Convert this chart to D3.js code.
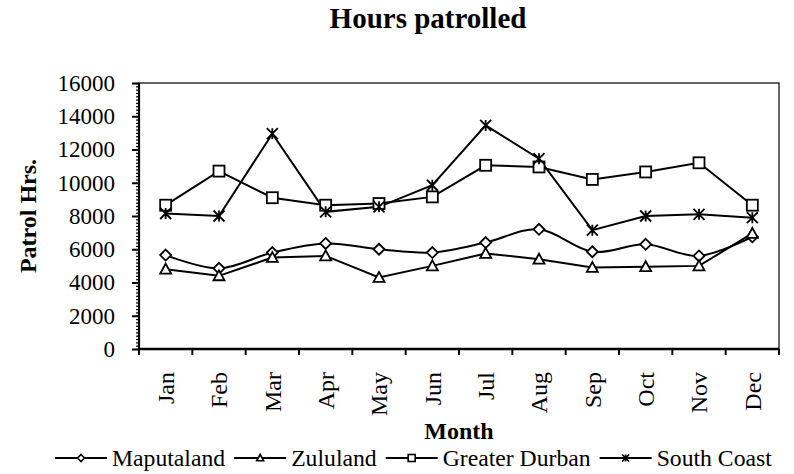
<!DOCTYPE html>
<html>
<head>
<meta charset="utf-8">
<script src="https://cdn.jsdelivr.net/npm/d3@7"></script>
<style>
  body { margin: 0; background: #fff; }
  text { font-family: 'Liberation Serif', 'Times New Roman', serif; fill: #000; }
</style>
</head>
<body>
<div class="canvas"></div>
<script>
const months = ['Jan', 'Feb', 'Mar', 'Apr', 'May', 'Jun', 'Jul', 'Aug', 'Sep', 'Oct', 'Nov', 'Dec'];
const maputaland = [5650, 4850, 5800, 6350, 6000, 5800, 6400, 7200, 5850, 6300, 5600, 6750];
const zululand = [4800, 4400, 5500, 5600, 4300, 5000, 5750, 5400, 4900, 4950, 5000, 6950];
const greaterDurban = [8650, 10700, 9100, 8650, 8750, 9150, 11050, 10950, 10200, 10650, 11200, 8650];
const southCoast = [8150, 8000, 12950, 8250, 8550, 9850, 13450, 11450, 7150, 8000, 8100, 7900];
const yTicks = [0, 2000, 4000, 6000, 8000, 10000, 12000, 14000, 16000];

const series = [
  { name: 'Maputaland', values: maputaland, marker: 'diamond', smooth: true },
  { name: 'Zululand', values: zululand, marker: 'triangle', smooth: false },
  { name: 'Greater Durban', values: greaterDurban, marker: 'square', smooth: false },
  { name: 'South Coast', values: southCoast, marker: 'star', smooth: false },
];

const width = 794;
const height = 474;
const margin = { top: 83, right: 15, bottom: 125, left: 139 };
const graphWidth = width - margin.left - margin.right;
const graphHeight = height - margin.top - margin.bottom;

const svg = d3
  .select('.canvas')
  .append('svg')
  .attr('width', width)
  .attr('height', height)
  .attr('font-family', "'Liberation Serif', serif");

const graph = svg
  .append('g')
  .attr('transform', `translate(${margin.left}, ${margin.top})`);

//scales
const x = d3.scaleBand().domain(months).range([0, graphWidth]).padding(0);
const y = d3.scaleLinear().domain([0, 16000]).range([graphHeight, 0]);
const cx = (i) => x(months[i]) + x.bandwidth() / 2;

//plot border (top and right)
graph
  .append('rect')
  .attr('width', graphWidth)
  .attr('height', graphHeight)
  .attr('fill', 'none')
  .attr('stroke', '#000')
  .attr('stroke-width', 1.2);

//minor y ticks
const minorAxis = d3
  .axisLeft(y)
  .tickValues(d3.range(0, 16001, 200))
  .tickSize(3)
  .tickFormat('');
graph.append('g').call(minorAxis).call((g) => g.select('.domain').remove())
  .selectAll('line').attr('stroke-width', 1.2);

//y axis
const yAxis = d3
  .axisLeft(y)
  .tickValues(yTicks)
  .tickSize(7)
  .tickPadding(17)
  .tickFormat(d3.format('d'));
const yAxisGroup = graph.append('g').call(yAxis).attr('font-family', null);
yAxisGroup.select('.domain').attr('stroke-width', 2.2).attr('d', `M0,0V${graphHeight}`);
yAxisGroup.selectAll('line').attr('stroke-width', 2);
yAxisGroup.selectAll('text').style('font-size', '23px');

//x axis ticks at category boundaries
const xAxisGroup = graph
  .append('g')
  .attr('transform', `translate(0, ${graphHeight})`);
xAxisGroup
  .append('line')
  .attr('x1', 0)
  .attr('x2', graphWidth)
  .attr('stroke', '#000')
  .attr('stroke-width', 2.5);
xAxisGroup
  .selectAll('.xtick')
  .data(d3.range(months.length + 1))
  .enter()
  .append('line')
  .attr('x1', (i) => i * x.step())
  .attr('x2', (i) => i * x.step())
  .attr('y1', 0)
  .attr('y2', 6)
  .attr('stroke', '#000')
  .attr('stroke-width', 2);
xAxisGroup
  .selectAll('.xlabel')
  .data(months)
  .enter()
  .append('text')
  .attr('transform', (d) => `translate(${x(d) + x.bandwidth() / 2}, 23) rotate(-90)`)
  .attr('text-anchor', 'end')
  .attr('dy', '0.34em')
  .style('font-size', '24px')
  .text((d) => d);

//titles
svg
  .append('text')
  .attr('x', 428)
  .attr('y', 28)
  .attr('text-anchor', 'middle')
  .style('font-size', '29px')
  .style('font-weight', 'bold')
  .text('Hours patrolled');

svg
  .append('text')
  .attr('transform', `translate(36, ${margin.top + graphHeight / 2}) rotate(-90)`)
  .attr('text-anchor', 'middle')
  .style('font-size', '24px')
  .style('font-weight', 'bold')
  .text('Patrol Hrs.');

svg
  .append('text')
  .attr('x', margin.left + graphWidth / 2)
  .attr('y', 439)
  .attr('text-anchor', 'middle')
  .style('font-size', '24px')
  .style('font-weight', 'bold')
  .text('Month');

//marker shapes
const drawMarker = (g, type, s) => {
  const h = s / 2;
  if (type === 'diamond') {
    g.append('path').attr('d', `M0,${-h}L${h},0L0,${h}L${-h},0Z`);
  } else if (type === 'triangle') {
    g.append('path').attr('d', `M0,${-h}L${h},${h * 0.8}L${-h},${h * 0.8}Z`);
  } else if (type === 'square') {
    g.append('rect').attr('x', -h).attr('y', -h).attr('width', s).attr('height', s);
  } else {
    g.append('path')
      .attr('d', `M${-h},${-h}L${h},${h}M${-h},${h}L${h},${-h}M0,${-h}L0,${h}`)
      .attr('fill', 'none');
  }
  g.selectAll('*').attr('fill', type === 'star' ? 'none' : '#fff').attr('stroke', '#000');
};

//lines and markers
series.forEach((s) => {
  const line = d3
    .line()
    .x((d, i) => cx(i))
    .y((d) => y(d))
    .curve(s.smooth ? d3.curveCatmullRom.alpha(0) : d3.curveLinear);

  graph
    .append('path')
    .datum(s.values)
    .attr('fill', 'none')
    .attr('stroke', '#000')
    .attr('stroke-width', 2)
    .attr('d', line);
});

series.forEach((s) => {
  s.values.forEach((v, i) => {
    const m = graph.append('g').attr('transform', `translate(${cx(i)}, ${y(v)})`);
    drawMarker(m, s.marker, 11);
    m.selectAll('*').attr('stroke-width', 1.8);
  });
});

//legend
const legend = svg.append('g').attr('transform', 'translate(55, 458)');
let lx = 0;
series.forEach((s) => {
  const item = legend.append('g').attr('transform', `translate(${lx}, 0)`);
  item
    .append('line')
    .attr('x1', 0)
    .attr('x2', 52)
    .attr('stroke', '#000')
    .attr('stroke-width', 2);
  const m = item.append('g').attr('transform', 'translate(26, 0)');
  drawMarker(m, s.marker, 7);
  m.selectAll('*').attr('stroke-width', 1.6);
  const label = item
    .append('text')
    .attr('x', 57)
    .attr('y', 8)
    .style('font-size', '23.7px')
    .text(s.name);
  lx += 57 + label.node().getComputedTextLength() + 9;
});
</script>
</body>
</html>
